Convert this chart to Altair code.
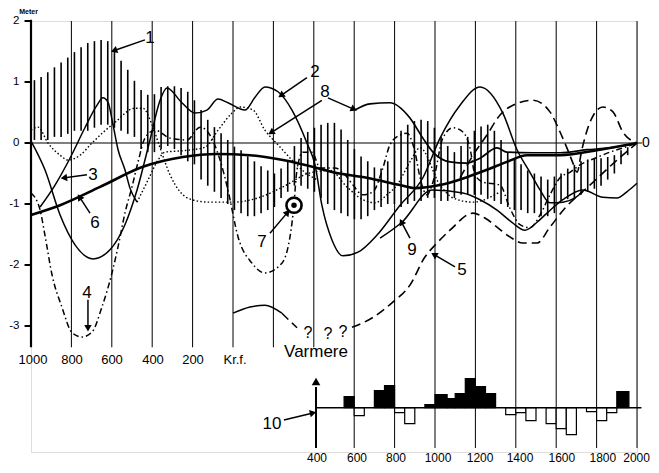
import math
import altair as alt
import pandas as pd

FONT = "Liberation Sans"

# ---------------- data ----------------
band_year = [-983, -950, -917, -884, -851, -818, -785, -752, -719, -686, -653, -620, -587, -554, -521,
             -488, -455, -422, -389, -356, -323, -290, -257, -224, -191, -158, -125, -92, -59, -26,
             7, 40, 73, 106, 139, 172, 205, 238, 271, 304, 337, 370, 403, 436, 469, 502, 535, 568,
             601, 634, 667, 700, 733, 766, 799, 832, 865, 898, 931, 964, 997, 1030, 1063, 1096, 1129,
             1162, 1195, 1228, 1261, 1294, 1327, 1360, 1393, 1426, 1459, 1492, 1525, 1558, 1591, 1624,
             1657, 1690, 1723, 1756, 1789, 1822, 1855, 1888, 1921, 1954, 1987]
band_top = [1.03, 1.08, 1.16, 1.24, 1.32, 1.40, 1.49, 1.57, 1.64, 1.67, 1.69, 1.67, 1.52, 1.35, 1.20,
            1.02, 0.87, 0.79, 0.80, 0.92, 0.93, 0.93, 0.90, 0.84, 0.70, 0.54, 0.38, 0.26, 0.16, 0.05,
            -0.06, -0.12, -0.22, -0.30, -0.38, -0.45, -0.50, -0.42, -0.30, -0.05, 0.08, 0.18, 0.25, 0.30,
            0.33, 0.33, 0.22, 0.05, -0.10, -0.22, -0.30, -0.40, -0.42, -0.30, 0.00, 0.20, 0.30, 0.36,
            0.38, 0.36, 0.25, 0.10, -0.05, -0.15, -0.05, 0.10, 0.20, 0.27, 0.30, 0.20, 0.05, -0.15,
            -0.25, -0.35, -0.45, -0.50, -0.55, -0.60, -0.55, -0.50, -0.42, -0.36, -0.30, -0.27, -0.26,
            -0.25, -0.23, -0.20, -0.12, -0.07, -0.02]
band_bottom = [0.05, 0.05, 0.05, 0.10, 0.10, 0.15, 0.20, 0.20, 0.20, 0.25, 0.30, 0.30, 0.25, 0.20, 0.15,
               0.10, -0.10, -0.15, -0.15, -0.10, -0.05, -0.10, -0.20, -0.30, -0.35, -0.60, -0.70, -0.80,
               -0.90, -1.00, -1.10, -1.15, -1.20, -1.20, -1.15, -1.10, -1.05, -0.90, -0.80, -0.70, -0.70,
               -0.75, -0.80, -0.90, -1.00, -1.10, -1.15, -1.20, -1.25, -1.25, -1.20, -1.10, -1.05, -1.00,
               -1.00, -1.05, -1.00, -0.95, -0.95, -0.90, -0.90, -0.95, -0.95, -0.90, -0.85, -0.85, -0.85,
               -0.85, -0.90, -0.95, -1.00, -1.05, -1.10, -1.10, -1.15, -1.15, -1.20, -1.20, -1.15, -0.95,
               -0.92, -0.90, -0.85, -0.80, -0.75, -0.70, -0.60, -0.50, -0.35, -0.20, -0.05]

c2_year = [-1000, -931, -856, -782, -693, -609, -535, -475, -411, -361, -327, -253, -188, -129, -74, -25,
           59, 109, 158, 223, 292, 366, 406, 440, 490, 544, 619, 713, 827, 940, 1025, 1124, 1223, 1336,
           1406, 1470, 1520, 1569, 1633, 1693, 1732]
c2_m = [0.03, -0.44, -1.18, -1.67, -1.90, -1.75, -1.34, -0.77, 0.05, 0.70, 0.90, 0.66, 0.49, 0.54, 0.72,
        0.66, 0.54, 0.75, 0.92, 0.84, 0.54, 0.00, -0.36, -1.02, -1.59, -1.85, -1.79, -1.51, -1.02, -0.57,
        0.08, 0.62, 0.92, 0.49, -0.11, -0.48, -0.77, -0.98, -0.97, -0.90, -0.80]

c9_year = [728, 836, 985, 1138, 1223, 1307, 1381, 1445, 1505, 1554, 1633, 1732, 1831, 1901, 1950, 2000]
c9_m = [-1.56, -1.30, -0.77, -0.82, -0.93, -1.10, -1.30, -1.43, -1.30, -1.15, -0.93, -0.77, -0.89, -0.90,
        -0.80, -0.66]

c3_year = [-955, -881, -807, -733, -673, -644, -619, -594, -569, -535, -510, -475]
c3_m = [-1.05, -0.69, -0.25, 0.25, 0.62, 0.74, 0.67, 0.30, -0.11, -0.44, -0.74, -0.97]

c6_year = [-1000, -856, -658, -446, -248, -79, 84, 247, 416, 495, 663, 827, 901, 1025, 1158, 1257, 1356,
           1455, 1619, 1817, 2000]
c6_m = [-1.18, -1.02, -0.72, -0.39, -0.23, -0.18, -0.20, -0.28, -0.41, -0.48, -0.57, -0.69, -0.74, -0.69,
        -0.56, -0.44, -0.31, -0.20, -0.20, -0.11, 0.00]

c8_year = [604, 678, 777, 876, 940, 990, 1074, 1158, 1223, 1307, 1356, 1485, 1619, 1752, 1866, 2000]
c8_m = [0.54, 0.64, 0.66, 0.41, 0.08, -0.15, -0.31, -0.33, -0.25, -0.08, -0.15, -0.16, -0.16, -0.11,
        -0.08, 0.00]

dotA_year = [-1000, -965, -916, -856, -817, -757, -698, -584, -485, -446, -401, -361, -312, -262, -203,
             -114, 0, 134, 247, 381, 480, 564, 643, 703, 762, 812, 876, 926, 1025, 1089, 1188, 1322]
dotA_m = [0.21, 0.26, 0.00, -0.20, -0.28, -0.20, 0.00, 0.34, 0.57, 0.57, 0.30, -0.08, -0.52, -0.80, -0.93,
          -0.97, -0.97, -0.89, -0.72, -0.49, -0.45, -0.72, -0.93, -0.98, -0.85, -0.69, -0.31, -0.08, -0.69,
          -0.90, -0.97, -0.80]

dotB_year = [-475, -421, -371, -337, -262, -203, -139, -74, -5, 35, 99, 158, 223, 292, 356, 421]
dotB_m = [-0.97, -0.61, -0.28, -0.15, -0.13, -0.11, -0.07, 0.21, 0.49, 0.59, 0.54, 0.21, -0.03, -0.28,
          -0.48, -0.61]

c4_year = [-1000, -955, -931, -896, -847, -797, -748, -698, -649, -599, -569, -535, -500, -470, -436, -386,
           -312, -228, -163, -114, -64, -25, 25, 94, 158, 242, 292, 302]
c4_m = [-0.82, -1.10, -1.51, -2.16, -2.69, -3.11, -3.18, -3.10, -2.69, -2.13, -1.70, -1.15, -0.72, -0.31,
        0.08, 0.21, 0.08, 0.05, 0.26, 0.13, -0.28, -0.77, -1.54, -1.97, -2.13, -1.97, -1.31, -1.02]

c7_year = [302, 317, 346, 391, 431, 505, 554, 594, 643, 693, 742, 777, 827, 861, 901, 926, 960, 990, 1039,
           1089, 1138, 1173, 1198, 1237, 1322, 1371, 1421, 1470, 1520, 1569, 1619, 1668, 1718, 1792, 1866,
           1940, 2000]
c7_m = [-1.02, -0.44, -0.15, -0.15, -0.41, -0.41, -0.52, -0.69, -0.85, -0.80, -0.41, -0.03, 0.13, 0.16,
        -0.15, -0.57, -0.85, -0.64, 0.08, 0.25, 0.18, -0.08, -0.52, -0.64, -0.69, -1.07, -1.34, -1.39, -1.18,
        -0.85, -0.57, -0.48, -0.36, -0.25, -0.15, -0.07, 0.00]

c5a_year = [0, 84, 158, 242]
c5a_m = [-2.79, -2.69, -2.66, -2.79]
c5b_year = [242, 317]
c5b_m = [-2.79, -3.03]
c5_year = [589, 688, 787, 876, 950, 1010, 1074, 1188, 1247, 1307, 1371, 1435, 1505, 1569, 1643, 1767, 1891,
           2000]
c5_m = [-3.02, -2.87, -2.62, -2.33, -1.87, -1.64, -1.43, -1.15, -1.23, -1.38, -1.54, -1.64, -1.64, -1.38,
        -1.07, -0.69, -0.31, 0.00]
c5c_year = [1124, 1198, 1257, 1322, 1386, 1485, 1569, 1619, 1653, 1683, 1703, 1727, 1767, 1831, 1881, 1930,
            2000]
c5c_m = [-0.57, -0.15, 0.13, 0.46, 0.62, 0.70, 0.51, 0.18, -0.08, -0.33, -0.48, -0.11, 0.34, 0.59, 0.51,
         0.18, 0.00]

marker_year = [302]
marker_m = [-1.02]

hist_start = [550, 600, 700, 750, 800, 850, 950, 1000, 1060, 1100, 1150, 1200, 1250, 1350, 1400, 1450,
              1550, 1600, 1650, 1750, 1800, 1850, 1900]
hist_end = [600, 650, 750, 800, 850, 900, 1000, 1060, 1100, 1150, 1200, 1250, 1300, 1400, 1450, 1500,
            1600, 1650, 1700, 1800, 1850, 1900, 1960]
hist_val = [11, -8, 17, 22, -5, -16, 3, 13, 9, 14, 29, 21, 14, -7, -5, -13, -16, -21, -27, -4, -13, -5, 16]

ytick_vals = [2, 1, 0, -1, -2, -3]
ytick_labels = ["2", "1", "0", "-1", "-2", "-3"]
grid_short_years = [-800, -600, -400, -200, 0, 200, 400]
grid_long_years = [600, 800, 1000, 1200, 1400, 1600, 1800, 2000]
bc_labels = ["1000", "800", "600", "400", "200", "Kr.f."]
bc_label_years = [-990, -797, -599, -396, -198, 10]
ad_labels = ["400", "600", "800", "1000", "1200", "1400", "1600", "1800", "2000"]
ad_label_years = [416, 614, 807, 1015, 1223, 1421, 1628, 1831, 1998]

# annotations: label, text position, arrow tail, arrow tip (year, metre)
labels = ["1", "2", "8", "3", "6", "4", "7", "9", "5", "10"]
label_year = [-411, 406, 455, -693, -683, -723, 143, 886, 1133, 193]
label_m = [1.72, 1.16, 0.84, -0.52, -1.31, -2.46, -1.62, -1.75, -2.08, -4.61]
arrow_x1 = [-436, 366, 440, 470, -723, -708, -718, 183, 876, 1099, 252]
arrow_y1 = [1.69, 1.07, 0.70, 0.74, -0.52, -1.15, -2.57, -1.48, -1.56, -2.03, -4.54]
arrow_x2 = [-584, 242, 193, 594, -832, -757, -718, 267, 836, 1000, 391]
arrow_y2 = [1.52, 0.79, 0.18, 0.56, -0.57, -0.90, -3.02, -1.15, -1.31, -1.84, -4.43]

# ---------------- scales ----------------
xs = alt.Scale(domain=[-1000, 2000], nice=False, zero=False)
ys = alt.Scale(domain=[-5.066, 2.0], nice=False, zero=False)
yi = alt.Scale(domain=[-44.3, 386.7], nice=False, zero=False)
PX_YEAR = 606 / 3000.0
PX_M = 431 / 7.066
LOW = -5.0


def X(f):
    return alt.X(f, type="quantitative", scale=xs, axis=None)


def Y(f):
    return alt.Y(f, type="quantitative", scale=ys, axis=None)


layers = []

# grid lines
gs = pd.DataFrame({"year": grid_short_years, "top": 2.0, "bot": -3.35})
gl = pd.DataFrame({"year": grid_long_years, "top": 2.0, "bot": LOW})
for g in (gs, gl):
    layers.append(alt.Chart(g).mark_rule(color="black", strokeWidth=1).encode(
        x=X("year"), y=Y("top"), y2="bot"))

# left axis line and ticks
ax = pd.DataFrame({"year": [-1000], "top": [2.02], "bot": [-3.35]})
layers.append(alt.Chart(ax).mark_rule(color="black", strokeWidth=2.2).encode(
    x=X("year"), y=Y("top"), y2="bot"))
yt = pd.DataFrame({"m": ytick_vals, "lab": ytick_labels, "x1": -1032, "x2": -1000, "xl": -1057})
layers.append(alt.Chart(yt).mark_rule(color="black", strokeWidth=2).encode(
    x=X("x1"), x2="x2", y=Y("m")))
layers.append(alt.Chart(yt).mark_text(align="right", baseline="middle", font=FONT, fontSize=11.5,
                                       color="black").encode(x=X("xl"), y=Y("m"), text="lab:N"))

# zero line
zl = pd.DataFrame({"x1": [-1000], "x2": [2025], "m": [0.0]})
layers.append(alt.Chart(zl).mark_rule(color="black", strokeWidth=1.2).encode(
    x=X("x1"), x2="x2", y=Y("m")))

# hatched band (curve 1)
band = pd.DataFrame({"year": band_year, "top": band_top, "bot": band_bottom})
layers.append(alt.Chart(band).mark_rule(color="black", strokeWidth=1.6).encode(
    x=X("year"), y=Y("top"), y2="bot"))


def curve(years, vals, width=1.5, dash=None):
    df = pd.DataFrame({"year": years, "m": vals})
    kw = dict(color="black", strokeWidth=width, interpolate="monotone")
    if dash is not None:
        kw["strokeDash"] = dash
    return alt.Chart(df).mark_line(**kw).encode(x=X("year"), y=Y("m"))


DOT = [1.5, 2.2]
DASHDOT = [6, 3, 1.5, 3]
DASH = [9, 5]
layers += [
    curve(dotA_year, dotA_m, 1.4, DOT),
    curve(dotB_year, dotB_m, 1.4, DOT),
    curve(c4_year, c4_m, 1.5, DASHDOT),
    curve(c7_year, c7_m, 1.5, DASHDOT),
    curve(c5b_year, c5b_m, 1.5, DASH),
    curve(c5_year, c5_m, 1.6, DASH),
    curve(c5c_year, c5c_m, 1.6, DASH),
    curve(c5a_year, c5a_m, 1.5),
    curve(c2_year, c2_m, 1.5),
    curve(c9_year, c9_m, 1.5),
    curve(c3_year, c3_m, 1.5),
    curve(c8_year, c8_m, 1.7),
    curve(c6_year, c6_m, 2.6),
]

# bull's-eye marker of curve 7
mk = pd.DataFrame({"year": marker_year, "m": marker_m})
layers.append(alt.Chart(mk).mark_point(shape="circle", size=230, filled=True, color="white",
                                       stroke="black", strokeWidth=2.6, opacity=1).encode(
    x=X("year"), y=Y("m")))
layers.append(alt.Chart(mk).mark_point(shape="circle", size=30, filled=True, color="black",
                                       opacity=1).encode(x=X("year"), y=Y("m")))

# arrows
angles = []
for a, b, c, d in zip(arrow_x1, arrow_y1, arrow_x2, arrow_y2):
    dx = (c - a) * PX_YEAR
    dy = -(d - b) * PX_M
    angles.append((math.degrees(math.atan2(dx, -dy)) + 360) % 360)
arr = pd.DataFrame({"x1": arrow_x1, "y1": arrow_y1, "x2": arrow_x2, "y2": arrow_y2, "ang": angles})
layers.append(alt.Chart(arr).mark_rule(color="black", strokeWidth=1.5).encode(
    x=X("x1"), y=Y("y1"), x2="x2", y2="y2"))
layers.append(alt.Chart(arr).mark_point(shape="triangle", filled=True, color="black", size=55,
                                        opacity=1).encode(
    x=X("x2"), y=Y("y2"), angle=alt.Angle("ang:Q", scale=None)))

# warmth axis arrow of the inset
wa = pd.DataFrame({"year": [411], "top": [-4.0], "bot": [LOW], "head": [-3.93]})
layers.append(alt.Chart(wa).mark_rule(color="black", strokeWidth=2).encode(
    x=X("year"), y=Y("top"), y2="bot"))
layers.append(alt.Chart(wa).mark_point(shape="triangle", filled=True, color="black", size=75,
                                       opacity=1).encode(x=X("year"), y=Y("head")))

# texts
txt = pd.DataFrame({
    "t": labels + ["?", "?", "?"] + bc_labels + ["0", "Varmere"],
    "year": label_year + [371, 470, 544] + bc_label_years + [2044, 411],
    "m": label_m + [-3.11, -3.13, -3.10] + [-3.56] * 6 + [0.0, -3.43],
    "fs": [17] * 10 + [16] * 3 + [13] * 6 + [14, 17],
})
layers.append(alt.Chart(txt).mark_text(align="center", baseline="middle", font=FONT,
                                        color="black").encode(
    x=X("year"), y=Y("m"), text="t:N", size=alt.Size("fs:Q", scale=None)))
adt = pd.DataFrame({"t": ad_labels, "year": ad_label_years, "m": -5.16})
layers.append(alt.Chart(adt).mark_text(align="center", baseline="middle", font=FONT, fontSize=12,
                                        color="black").encode(x=X("year"), y=Y("m"), text="t:N"))
mt = pd.DataFrame({"t": ["Meter"], "year": [-1012], "m": [2.14]})
layers.append(alt.Chart(mt).mark_text(align="center", baseline="middle", font=FONT, fontSize=7,
                                       fontWeight="bold", color="black").encode(
    x=X("year"), y=Y("m"), text="t:N"))

main = alt.layer(*layers)

# ---------------- inset histogram ----------------
hist = pd.DataFrame({"start": hist_start, "end": hist_end, "val": hist_val, "zero": 0})
bars = alt.Chart(hist).mark_rect(stroke="black", strokeWidth=1.2).encode(
    x=X("start"), x2="end",
    y=alt.Y("val:Q", scale=yi, axis=None), y2="zero:Q",
    fill=alt.condition("datum.val > 0", alt.value("black"), alt.value("white")),
)
bl = pd.DataFrame({"x1": [411], "x2": [2022], "v": [0]})
base = alt.Chart(bl).mark_rule(color="black", strokeWidth=1.4).encode(
    x=X("x1"), x2="x2", y=alt.Y("v:Q", scale=yi, axis=None))
inset = alt.layer(bars, base)

chart = alt.layer(main, inset).resolve_scale(y="independent").properties(
    width=606, height=431,
    padding={"left": 23, "top": 13, "right": 14, "bottom": 12},
    autosize=alt.AutoSizeParams(type="none"),
).configure_view(stroke=None).configure(background="white")

chart.save("out.html", embed_options={"renderer": "svg", "actions": False})
